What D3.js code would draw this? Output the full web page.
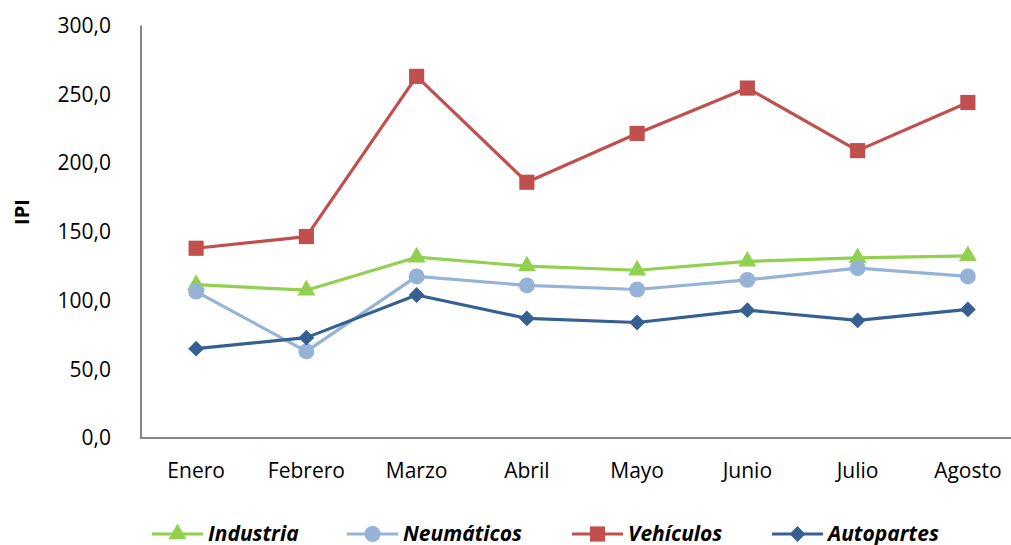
<!DOCTYPE html>
<html>
<head>
<meta charset="utf-8">
<script src="https://cdnjs.cloudflare.com/ajax/libs/d3/7.8.5/d3.min.js"></script>
<style>
  body { margin: 0; background: #fff; }
  svg { display: block; font-family: "Open Sans", Lato, sans-serif; }
</style>
</head>
<body>
<svg width="1011" height="545"></svg>
<script>
var months = ["Enero", "Febrero", "Marzo", "Abril", "Mayo", "Junio", "Julio", "Agosto"];
var industria   = [111.5, 107.5, 131.5, 125.0, 122.0, 128.5, 131.0, 132.5];
var neumaticos  = [106.5, 63.0, 117.5, 111.0, 108.0, 115.0, 123.5, 117.5];
var vehiculos   = [138.0, 146.5, 263.0, 186.0, 221.5, 254.5, 209.0, 244.0];
var autopartes  = [65.0, 73.0, 104.0, 87.0, 84.0, 93.0, 85.5, 93.5];
var yTicks = [0, 50, 100, 150, 200, 250, 300];

// rot: rotate the marker (diamond = square turned 45 degrees)
var series = [
  { name: "Industria",  values: industria,  color: "#92d050", shape: d3.symbolTriangle, size: 140, rot: 0 },
  { name: "Neumáticos", values: neumaticos, color: "#95b3d7", shape: d3.symbolCircle,   size: 200, rot: 0 },
  { name: "Vehículos",  values: vehiculos,  color: "#c0504d", shape: d3.symbolSquare,   size: 230, rot: 0 },
  { name: "Autopartes", values: autopartes, color: "#366092", shape: d3.symbolSquare,   size: 125, rot: 45 }
];

var svg = d3.select("svg");
var plotL = 141, plotT = 25.5, plotB = 438, plotR = 1023;

var x = d3.scaleBand().domain(months).range([plotL, plotR]);
var y = d3.scaleLinear().domain([0, 300]).range([plotB, plotT]);
var fmt = function(v) { return d3.format(".1f")(v).replace(".", ","); };
var cx = function(m) { return x(m) + x.bandwidth() / 2; };

// axes
svg.append("line").attr("x1", plotL).attr("x2", plotL).attr("y1", plotT).attr("y2", plotB)
  .attr("stroke", "#868686").attr("stroke-width", 2);
svg.append("line").attr("x1", plotL - 1).attr("x2", 1011).attr("y1", plotB).attr("y2", plotB)
  .attr("stroke", "#868686").attr("stroke-width", 2);

svg.append("g").selectAll("text").data(yTicks).enter().append("text")
  .attr("x", 111).attr("y", function(d) { return y(d); })
  .attr("dy", "0.35em").attr("text-anchor", "end")
  .style("font-size", "21px").style("fill", "#000")
  .text(fmt);

svg.append("g").selectAll("text").data(months).enter().append("text")
  .attr("x", cx)
  .attr("y", 471).attr("dy", "0.35em").attr("text-anchor", "middle")
  .style("font-size", "21px").style("fill", "#000")
  .text(function(d) { return d; });

svg.append("text")
  .attr("transform", "translate(22,212) rotate(-90)")
  .attr("text-anchor", "middle").attr("dy", "0.35em")
  .style("font-size", "20px").style("font-weight", "bold")
  .text("IPI");

var line = d3.line()
  .x(function(d, i) { return cx(months[i]); })
  .y(function(d) { return y(d); });

series.forEach(function(s) {
  var g = svg.append("g");
  g.append("path").datum(s.values).attr("d", line)
    .attr("fill", "none").attr("stroke", s.color).attr("stroke-width", 3.2)
    .attr("stroke-linejoin", "round");
  g.selectAll("path.m").data(s.values).enter().append("path")
    .attr("class", "m")
    .attr("d", d3.symbol().type(s.shape).size(s.size))
    .attr("transform", function(d, i) {
      return "translate(" + cx(months[i]) + "," + y(d) + ") rotate(" + s.rot + ")";
    })
    .attr("fill", s.color);
});

// legend
var legendX = [152, 347, 572, 772];
var ly = 534;
var leg = svg.append("g").selectAll("g").data(series).enter().append("g")
  .attr("transform", function(d, i) { return "translate(" + legendX[i] + "," + ly + ")"; });
leg.append("line").attr("x1", 0).attr("x2", 51).attr("y1", 0).attr("y2", 0)
  .attr("stroke", function(d) { return d.color; }).attr("stroke-width", 3.2);
leg.append("path")
  .attr("d", function(d) { return d3.symbol().type(d.shape).size(d.size)(); })
  .attr("transform", function(d) { return "translate(25.5,0) rotate(" + d.rot + ")"; })
  .attr("fill", function(d) { return d.color; });
leg.append("text").attr("x", 56).attr("y", 0).attr("dy", "0.35em")
  .style("font-size", "21px").style("font-weight", "bold").style("font-style", "italic")
  .text(function(d) { return d.name; });
</script>
</body>
</html>
